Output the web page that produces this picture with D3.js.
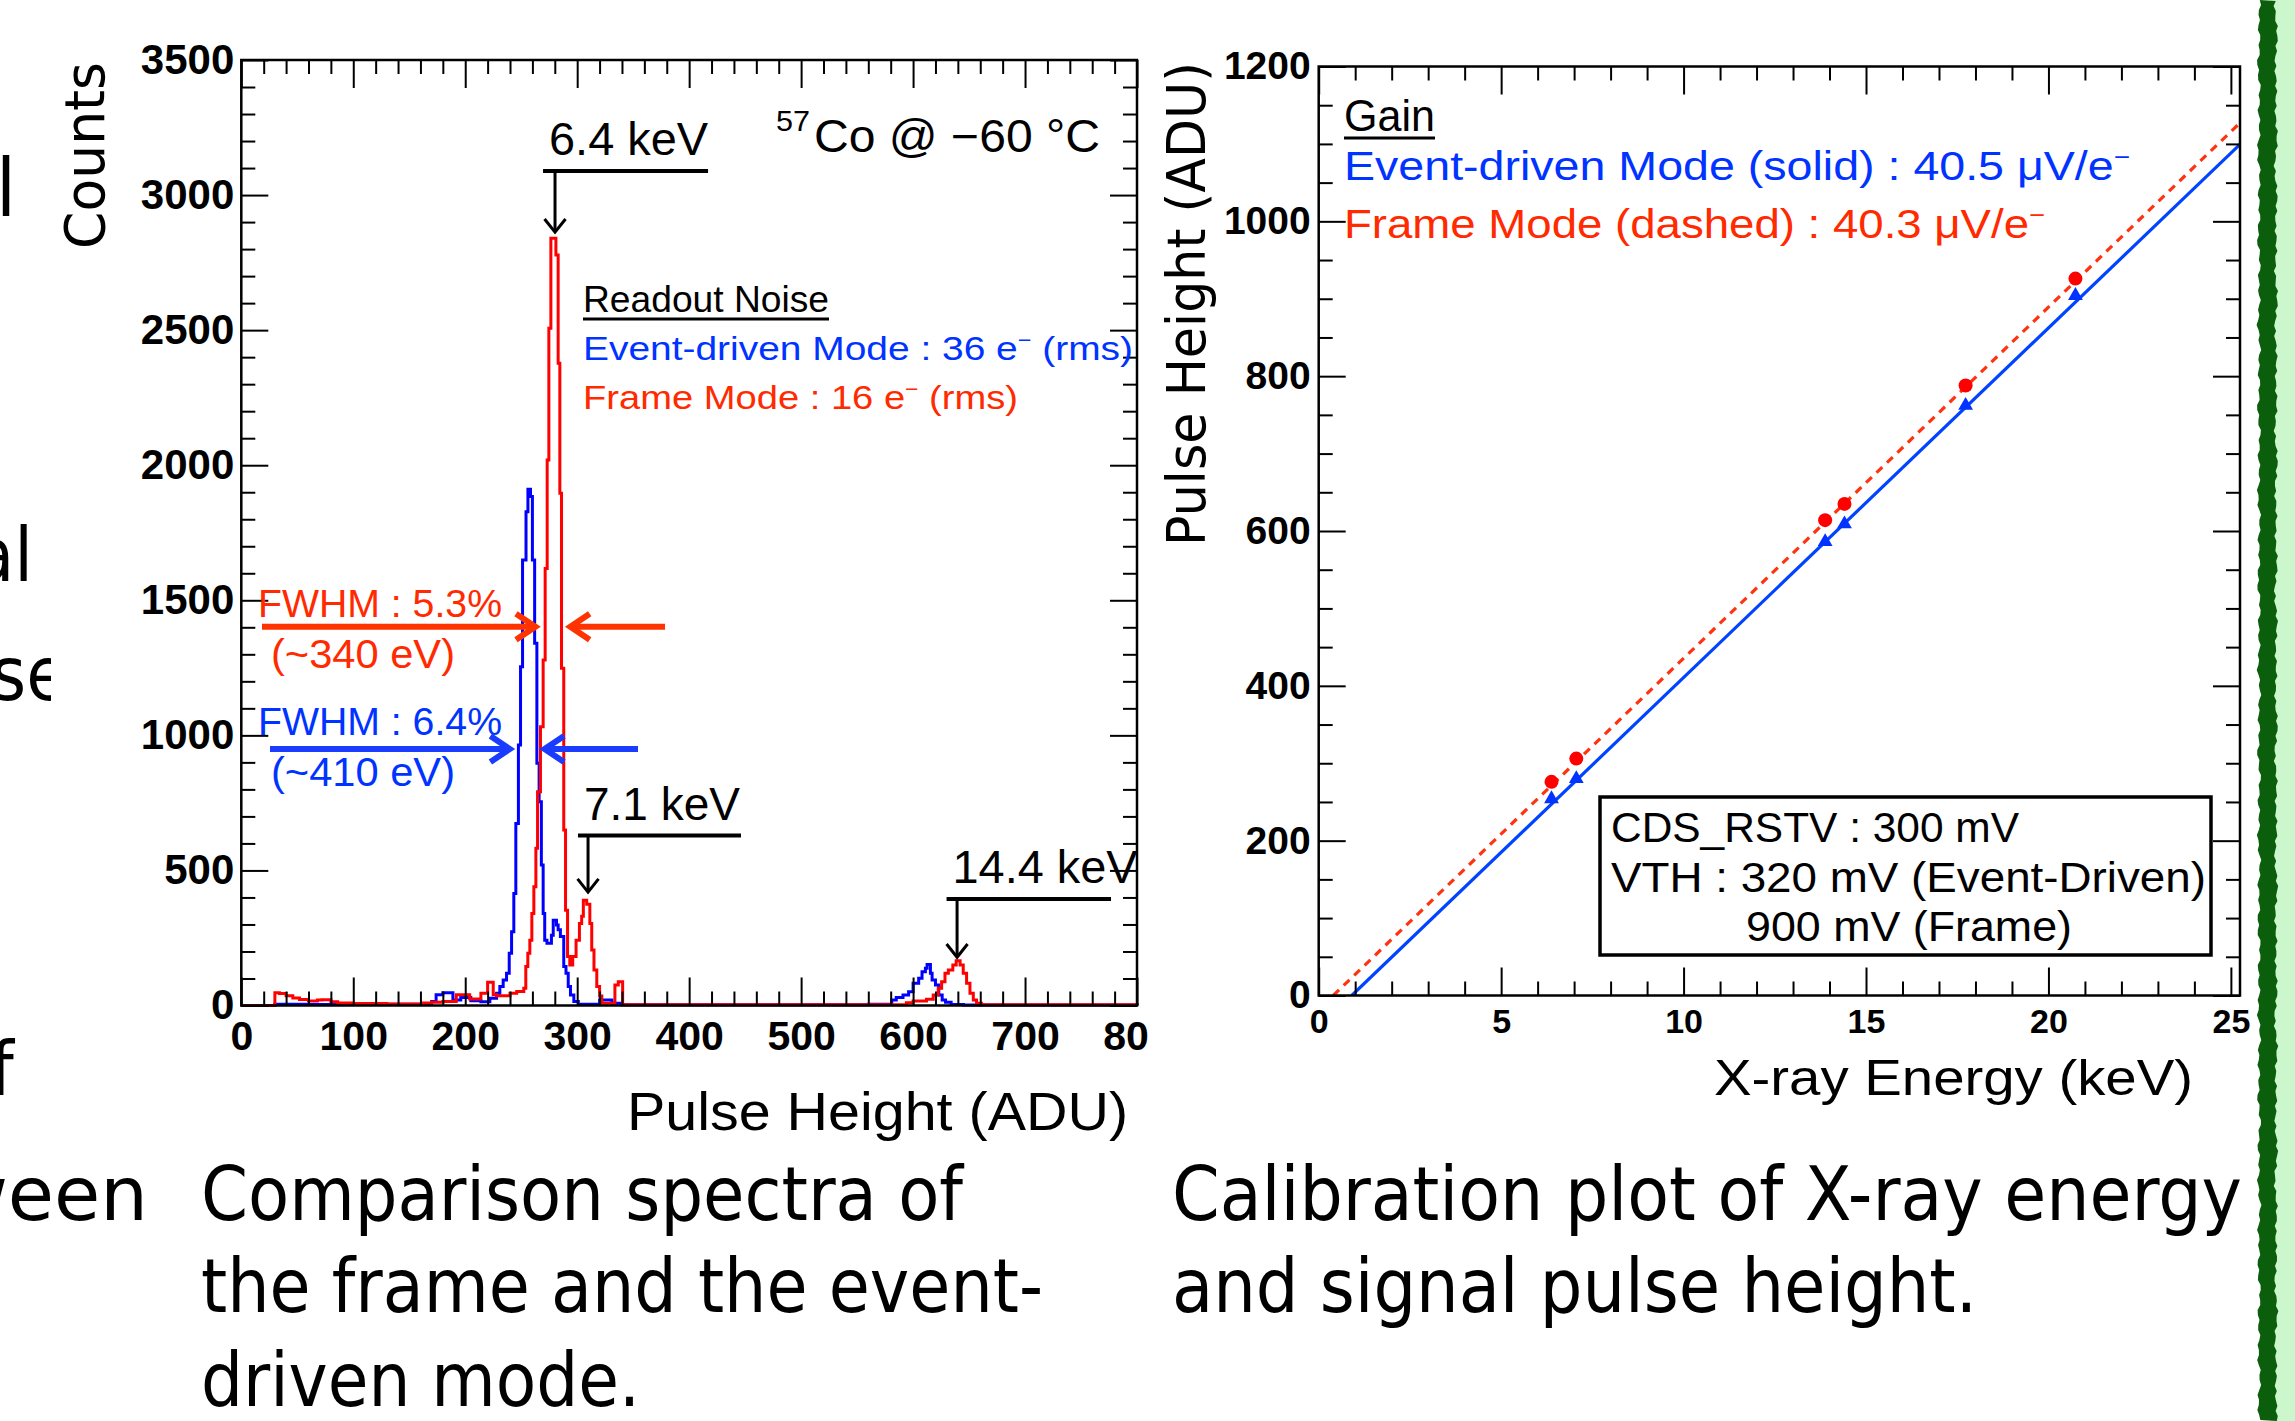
<!DOCTYPE html>
<html>
<head>
<meta charset="utf-8">
<title>Spectra and gain calibration</title>
<script src="https://cdn.jsdelivr.net/npm/d3@7/dist/d3.min.js"></script>
<style>
  body { margin: 0; background: #fff; }
  svg { display: block; }
</style>
</head>
<body>
<svg id="page" width="2295" height="1421"></svg>
<script>

// pulse height spectra, [bin low edge (ADU), counts]; last bin runs to specMax
var specMax = 800;
var eventBins = [
  [0,0],[30,5],[60,4],[120,5],[170,15],[174,40],[180,47],[189,20],[196,30],[205,18],
  [214,14],[222,27],[228,45],[230.9,70],[233.9,94],[236.9,119],[239.3,193],[241.4,273],[243.4,415],[245.2,674],
  [247.5,964],[249.4,1254],[251.2,1649],[254.3,1828],[256,1911],[258.3,1884],[260,1649],[262,1341],[264,897],[266,754],
  [268,520],[269.6,341],[271,242],[273,230],[277,260],[278.6,316],[281.5,298],[283,280],[285,255],[288,144],
  [290,119],[292,70],[294,39],[297,15],[301,5],[320,20],[331,8],[340,3],[560,5],[581,20],
  [585,30],[591,39],[596,51],[600,82],[605,101],[608,125],[611,138],[612.5,152],[615.5,119],[617,94],
  [620,76],[623,39],[626,20],[629,12],[634,4],[645,2]
];
var frameBins = [
  [0,0],[30,47],[34,44],[40,36],[46,28],[52,22],[60,17],[68,20],[72,21],[80,14],
  [86,9],[100,7],[130,6],[162,9],[170,12],[180,15],[192,40],[204,24],[214,45],[220,86],
  [225,40],[228,36],[240,45],[246,52],[252.3,64],[254.1,144],[255.9,193],[257.7,242],[259.5,341],[261.3,440],
  [263.1,582],[264.6,791],[267.2,1032],[269.6,1279],[271.4,1618],[273.2,2019],[274.7,2507],[276.5,2840],[281,2778],[283,2377],
  [284.5,1896],[286,1248],[288,650],[289.6,353],[291.4,181],[293.4,150],[296,181],[299,242],[302,304],[304,330],
  [305.5,390],[308.5,375],[311.3,304],[313,205],[315,131],[317.5,70],[320,35],[322,8],[333.7,76],[336.7,88],
  [340.6,3],[594,10],[600,17],[612,23],[618,39],[622.5,64],[625.5,88],[628.5,119],[631.5,131],[635.5,150],
  [638.5,166],[642,150],[644.8,119],[647.8,82],[650.8,45],[653.8,20],[656.7,8],[661,3]
];
var specXTicks = [0, 100, 200, 300, 400, 500, 600, 700, 800];
var specYTicks = [0, 500, 1000, 1500, 2000, 2500, 3000, 3500];

// peaks pointed at: label, ADU, bar level, arrow tip, bar from/to (ADU)
var peakNames = ['6.4 keV', '7.1 keV', '14.4 keV'];
var peakAdu = [280.2, 309.7, 639.3];
var peakBar = [3089, 629, 394];
var peakTip = [2856, 413, 172];
var peakBarFrom = [269.5, 300.7, 629.9];
var peakBarTo = [416.9, 446.3, 776.8];

// gain calibration
var lineEnergy = [6.38, 7.06, 13.88, 14.41, 17.73, 20.74];
var framePulse = [276, 306, 614, 635, 788, 926];
var eventPulse = [254, 280, 586, 609, 762, 904];
var frameGain = [45.36, -18.1];   // ADU per keV, offset
var eventGain = [45.16, -40.9];
var calXTicks = [0, 5, 10, 15, 20, 25];
var calYTicks = [0, 200, 400, 600, 800, 1000, 1200];

var HELV = '"Liberation Sans", Arial, Helvetica, sans-serif';
var WIDE = '"DejaVu Sans", Verdana, sans-serif';
var SLIDE = '"DejaVu Sans Condensed", "DejaVu Sans", sans-serif';
var BLUE = '#0033ff', RED = '#ff2a00';

var svg = d3.select('#page');

function label(g, x, y, parts, o) {
  var t = g.append('text').attr('x', x).attr('y', y)
    .style('font-family', o.font || HELV)
    .attr('font-size', o.size)
    .attr('fill', o.color || '#000')
    .attr('text-anchor', o.anchor || 'start');
  if (o.weight) t.attr('font-weight', o.weight);
  if (o.rotate) t.attr('transform', 'rotate(' + o.rotate + ',' + x + ',' + y + ')');
  var lift = 0;
  parts.forEach(function (p) {
    if (typeof p === 'string') {
      var s = t.append('tspan').text(p);
      if (lift) { s.attr('dy', lift); lift = 0; }
    } else {
      lift = o.size * 0.38;
      t.append('tspan').attr('dy', -lift).attr('font-size', o.size * 0.6).text(p.sup);
    }
  });
  if (o.len) t.attr('textLength', o.len).attr('lengthAdjust', 'spacingAndGlyphs');
  return t;
}

function arrow(g, x1, y1, x2, y2, head, half, color, w) {
  var a = Math.atan2(y2 - y1, x2 - x1), c = Math.cos(a), s = Math.sin(a);
  g.append('line').attr('x1', x1).attr('y1', y1)
    .attr('x2', x2 - c * w * 0.8).attr('y2', y2 - s * w * 0.8)
    .attr('stroke', color).attr('stroke-width', w);
  var p = [[x2 - head * c + half * s, y2 - head * s - half * c], [x2 - c * w * 0.6, y2 - s * w * 0.6],
           [x2 - head * c - half * s, y2 - head * s + half * c]];
  g.append('path').attr('d', d3.line()(p)).attr('fill', 'none')
    .attr('stroke', color).attr('stroke-width', w).attr('stroke-linejoin', 'miter');
}

// ROOT style frame: inward ticks on all four sides, labels bottom and left
function frame(g, x, y, o) {
  var l = x.range()[0], r = x.range()[1], b = y.range()[0], t = y.range()[1];
  function tk(axis, tr, vals, len, fmt) {
    var a = g.append('g').attr('transform', tr)
      .call(axis.tickValues(vals).tickSizeInner(-len).tickSizeOuter(0).tickFormat(fmt || ''));
    a.select('.domain').remove();
    a.selectAll('line').attr('stroke', '#000').attr('stroke-width', 2);
    return a;
  }
  var xMinor = o.xMinor.filter(function (v) { return o.xMajor.indexOf(v) < 0; });
  var yMinor = o.yMinor.filter(function (v) { return o.yMajor.indexOf(v) < 0; });
  tk(d3.axisBottom(x), 'translate(0,' + b + ')', xMinor, 14);
  tk(d3.axisTop(x), 'translate(0,' + t + ')', xMinor, 14);
  tk(d3.axisTop(x), 'translate(0,' + t + ')', o.xMajor, 28);
  tk(d3.axisLeft(y), 'translate(' + l + ',0)', yMinor, 14);
  tk(d3.axisRight(y), 'translate(' + r + ',0)', yMinor, 14);
  tk(d3.axisRight(y), 'translate(' + r + ',0)', o.yMajor, 27);
  var xa = tk(d3.axisBottom(x).tickPadding(o.xPad), 'translate(0,' + b + ')', o.xMajor, 28, d3.format('d'));
  var ya = tk(d3.axisLeft(y).tickPadding(o.yPad), 'translate(' + l + ',0)', o.yMajor, 27, d3.format('d'));
  xa.selectAll('text').style('font-family', HELV).attr('font-weight', 'bold')
    .attr('font-size', o.xSize).attr('fill', '#000');
  ya.selectAll('text').style('font-family', HELV).attr('font-weight', 'bold')
    .attr('font-size', o.ySize).attr('fill', '#000');
  g.append('rect').attr('x', l).attr('y', t).attr('width', r - l).attr('height', b - t)
    .attr('fill', 'none').attr('stroke', '#000').attr('stroke-width', 2.5);
}

var defs = svg.append('defs');
defs.append('clipPath').attr('id', 'leftClip').append('rect')
  .attr('x', 0).attr('y', 0).attr('width', 1150).attr('height', 1421);
defs.append('clipPath').attr('id', 'seClip').append('rect')
  .attr('x', 0).attr('y', 0).attr('width', 51).attr('height', 1140);

// ---------- slide text around the figures ----------
var slide = svg.append('g');
label(slide, -4, 216, ['l'], { size: 80, font: SLIDE });
label(slide, -27, 581, ['al'], { size: 75, font: SLIDE });
label(slide.append('g').attr('clip-path', 'url(#seClip)'), -9, 700, ['se'], { size: 75, font: SLIDE });
label(slide, -10, 1095, ['f'], { size: 75, font: SLIDE });
label(slide, 148, 1220, ['between'], { size: 75, font: SLIDE, anchor: 'end', len: 325 });

label(slide, 201, 1220, ['Comparison spectra of'], { size: 75, font: SLIDE, len: 762 });
label(slide, 201, 1312, ['the frame and the event-'], { size: 75, font: SLIDE, len: 842 });
label(slide, 201, 1406, ['driven mode.'], { size: 75, font: SLIDE, len: 439 });
label(slide, 1172, 1220, ['Calibration plot of X-ray energy'], { size: 75, font: SLIDE, len: 1070 });
label(slide, 1172, 1312, ['and signal pulse height.'], { size: 75, font: SLIDE, len: 805 });

// green page border (brush stroke)
var band = svg.append('g');
band.append('rect').attr('x', 2270).attr('y', 0).attr('width', 25).attr('height', 1421).attr('fill', '#ccf7cc');
function wobble(i, a, b) { return 1.2 * Math.sin(i * a) + 0.8 * Math.sin(i * b + 1.3) + 0.5 * Math.sin(i * 0.37); }
var edgeL = d3.range(0, 1422, 5).map(function (v, i) { return [2259 + wobble(i, 1.91, 0.73), v]; });
var edgeR = d3.range(1421, -1, -5).map(function (v, i) { return [2276 + wobble(i, 2.37, 0.59), v]; });
band.append('path').attr('d', d3.line()(edgeL.concat(edgeR)) + 'Z').attr('fill', '#0b5e0b');

// ---------- left: spectra ----------
var left = svg.append('g').attr('clip-path', 'url(#leftClip)');
var sx = d3.scaleLinear().domain([0, specMax]).range([241.3, 1137]);
var sy = d3.scaleLinear().domain([0, 3500]).range([1005.5, 60]);

function stepPath(bins) {
  var pts = [[bins[0][0], 0]];
  bins.forEach(function (b, i) {
    var hi = i + 1 < bins.length ? bins[i + 1][0] : specMax;
    pts.push([b[0], b[1]], [hi, b[1]]);
  });
  pts.push([specMax, 0]);
  return d3.line().x(function (d) { return sx(d[0]); }).y(function (d) { return sy(d[1]); })(pts);
}
left.append('path').attr('d', stepPath(eventBins)).attr('fill', 'none')
  .attr('stroke', '#0000ff').attr('stroke-width', 3).attr('stroke-linejoin', 'miter');
left.append('path').attr('d', stepPath(frameBins)).attr('fill', 'none')
  .attr('stroke', '#ff0000').attr('stroke-width', 3).attr('stroke-linejoin', 'miter');

frame(left, sx, sy, {
  xMajor: specXTicks, xMinor: d3.range(0, 801, 20),
  yMajor: specYTicks, yMinor: d3.range(0, 3501, 100),
  xPad: 15, yPad: 7, xSize: 41, ySize: 42
});

peakNames.forEach(function (name, i) {
  left.append('line').attr('x1', sx(peakBarFrom[i])).attr('x2', sx(peakBarTo[i]))
    .attr('y1', sy(peakBar[i])).attr('y2', sy(peakBar[i]))
    .attr('stroke', '#000').attr('stroke-width', 4);
  arrow(left, sx(peakAdu[i]), sy(peakBar[i]), sx(peakAdu[i]), sy(peakTip[i]), 15, 10.5, '#000', 3);
  label(left, sx(peakBarFrom[i]) + 6, sy(peakBar[i]) - 16, [name],
    { size: 46, len: [159, 156, 185][i] });
});

label(left, 776, 131, ['57'], { size: 30, len: 34 });
label(left, 814, 152, ['Co @ \u221260 \u00b0C'], { size: 46, len: 286 });

label(left, 583, 312, ['Readout Noise'], { size: 37, len: 246 });
left.append('line').attr('x1', 583).attr('x2', 829).attr('y1', 319).attr('y2', 319)
  .attr('stroke', '#000').attr('stroke-width', 3);
label(left, 583, 360, ['Event-driven Mode : 36 e', { sup: '\u2212' }, ' (rms)'], { size: 34, len: 550, color: BLUE });
label(left, 583, 409, ['Frame Mode : 16 e', { sup: '\u2212' }, ' (rms)'], { size: 34, len: 435, color: RED });

label(left, 258, 617, ['FWHM : 5.3%'], { size: 39, len: 244, color: RED });
label(left, 271, 668, ['(~340 eV)'], { size: 40, len: 184, color: RED });
arrow(left, 262, 626.7, 539, 626.7, 23, 13, '#ff3300', 6);
arrow(left, 665, 626.7, 566.7, 626.7, 23, 13, '#ff3300', 6);

label(left, 258, 735, ['FWHM : 6.4%'], { size: 39, len: 244, color: BLUE });
label(left, 271, 786, ['(~410 eV)'], { size: 40, len: 184, color: BLUE });
arrow(left, 270, 749, 513.4, 749, 23, 13, '#1a3cff', 6);
arrow(left, 638, 749, 541, 749, 23, 13, '#1a3cff', 6);

label(left, 104, 62, ['Counts'], { size: 56, font: WIDE, anchor: 'end', rotate: -90, len: 187 });
label(left, 1128, 1130, ['Pulse Height (ADU)'], { size: 54, anchor: 'end', len: 501 });

// ---------- right: gain calibration ----------
var right = svg.append('g');
var ex = d3.scaleLinear().domain([0, 25.25]).range([1318.7, 2240]);
var ey = d3.scaleLinear().domain([0, 1200]).range([995.5, 66.5]);
defs.append('clipPath').attr('id', 'calClip').append('rect')
  .attr('x', ex.range()[0]).attr('y', ey.range()[1])
  .attr('width', ex.range()[1] - ex.range()[0]).attr('height', ey.range()[0] - ey.range()[1]);

var plot = right.append('g').attr('clip-path', 'url(#calClip)');
function fitLine(gain) {
  var e0 = -gain[1] / gain[0], e1 = ex.domain()[1];
  return d3.line().x(function (d) { return ex(d); }).y(function (d) { return ey(gain[0] * d + gain[1]); })([e0, e1]);
}
plot.append('path').attr('d', fitLine(eventGain)).attr('stroke', '#0044ff').attr('stroke-width', 3.2).attr('fill', 'none');
plot.append('path').attr('d', fitLine(frameGain)).attr('stroke', '#ff3311').attr('stroke-width', 3.2)
  .attr('stroke-dasharray', '8,6.5').attr('fill', 'none');

plot.selectAll('.tri').data(lineEnergy).enter().append('path')
  .attr('d', d3.symbol().type(d3.symbolTriangle).size(95))
  .attr('transform', function (d, i) { return 'translate(' + ex(d) + ',' + ey(eventPulse[i]) + ')'; })
  .attr('fill', '#0033ff');
plot.selectAll('.dot').data(lineEnergy).enter().append('circle')
  .attr('cx', function (d) { return ex(d); })
  .attr('cy', function (d, i) { return ey(framePulse[i]); })
  .attr('r', 7).attr('fill', '#ff0000');

frame(right, ex, ey, {
  xMajor: calXTicks, xMinor: d3.range(0, 26, 1),
  yMajor: calYTicks, yMinor: d3.range(0, 1201, 50),
  xPad: 13, yPad: 8, xSize: 34, ySize: 39
});

label(right, 1344, 131, ['Gain'], { size: 44, len: 91 });
right.append('line').attr('x1', 1344).attr('x2', 1435).attr('y1', 138).attr('y2', 138)
  .attr('stroke', '#000').attr('stroke-width', 3);
label(right, 1344, 180, ['Event-driven Mode (solid) : 40.5 \u03bcV/e', { sup: '\u2212' }], { size: 40, len: 786, color: BLUE });
label(right, 1344, 238, ['Frame Mode (dashed) : 40.3 \u03bcV/e', { sup: '\u2212' }], { size: 40, len: 701, color: RED });

right.append('rect').attr('x', 1600).attr('y', 797).attr('width', 611).attr('height', 158)
  .attr('fill', '#fff').attr('stroke', '#000').attr('stroke-width', 3.5);
label(right, 1611, 842, ['CDS_RSTV : 300 mV'], { size: 42, len: 408 });
label(right, 1611, 892, ['VTH : 320 mV (Event-Driven)'], { size: 42, len: 595 });
label(right, 1746, 941, ['900 mV (Frame)'], { size: 42, len: 326 });

label(right, 1205, 62, ['Pulse Height (ADU)'], { size: 53, font: WIDE, anchor: 'end', rotate: -90, len: 484 });
label(right, 2193, 1095, ['X-ray Energy (keV)'], { size: 50, anchor: 'end', len: 479 });

</script>
</body>
</html>
